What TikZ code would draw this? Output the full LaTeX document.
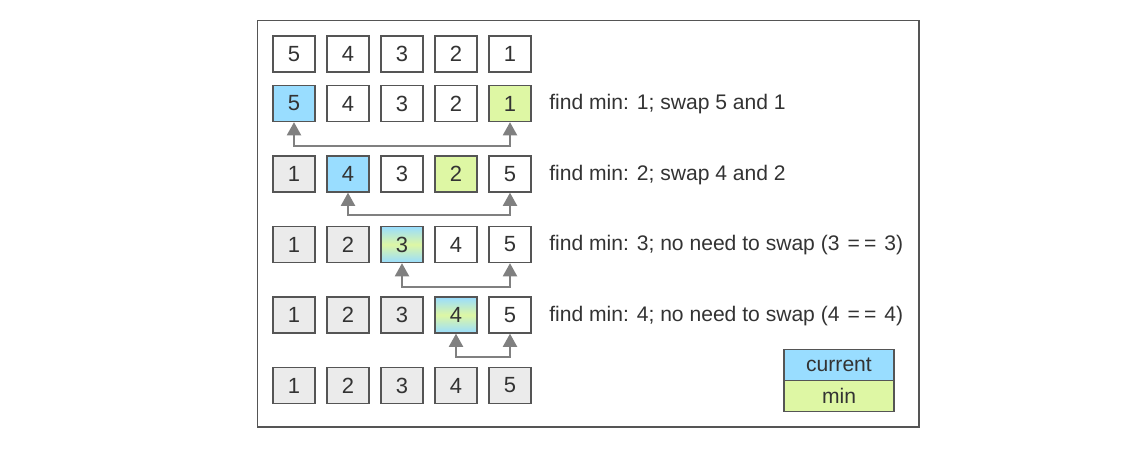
\documentclass[tikz,border=0pt]{standalone}
\usepackage{fontspec}
\setmainfont{Liberation Sans}
\usetikzlibrary{arrows.meta}
\definecolor{curblue}{RGB}{153,221,255}
\definecolor{mingreen}{RGB}{222,247,164}
\definecolor{donegray}{RGB}{235,235,235}
\definecolor{edgegray}{RGB}{85,85,85}
\definecolor{arrowgray}{RGB}{128,128,128}
\definecolor{textgray}{RGB}{51,51,51}
\tikzset{
  cell/.style={draw=edgegray, line width=0.8pt, fill=white, minimum width=0.84cm,
    minimum height=0.72cm, inner sep=0pt, text=textgray, font=\fontsize{12.5}{14}\selectfont},
  curcell/.style={cell, fill=curblue},
  mincell/.style={cell, fill=mingreen},
  donecell/.style={cell, fill=donegray},
  bothcell/.style={cell, top color=curblue, bottom color=curblue, middle color=mingreen},
  note/.style={anchor=west, inner sep=0pt, text=textgray, font=\fontsize{12}{14}\selectfont},
  legend/.style={draw=edgegray, line width=0.8pt, minimum width=2.2cm, minimum height=0.62cm,
    inner sep=0pt, text=textgray, font=\fontsize{12}{14}\selectfont},
  swaparrow/.style={arrowgray, line width=1.2pt,
    {Triangle[length=7.5pt,width=8pt]}-{Triangle[length=7.5pt,width=8pt]}},
}
\newcommand{\eqeq}{\hspace{0.38em}=\hspace{0.2em}=\hspace{0.38em}}
\begin{document}
\begin{tikzpicture}[x=0.02cm,y=-0.02cm]
\useasboundingbox (0,0) rectangle (1123,452);
\draw[edgegray, line width=0.85pt] (257.5,20.5) rectangle (919,427);

\node[cell] (r1c1) at (294,54) {5};
\node[cell] (r1c2) at (348,54) {4};
\node[cell] (r1c3) at (402,54) {3};
\node[cell] (r1c4) at (456,54) {2};
\node[cell] (r1c5) at (510,54) {1};

\node[curcell] (r2c1) at (294,103.5) {5};
\node[cell] (r2c2) at (348,103.5) {4};
\node[cell] (r2c3) at (402,103.5) {3};
\node[cell] (r2c4) at (456,103.5) {2};
\node[mincell] (r2c5) at (510,103.5) {1};
\node[note] (t2) at (549,104.5) {find min: 1; swap 5 and 1};
\draw[swaparrow] (r2c1.south) -- ++(0,23.5) -| (r2c5.south);

\node[donecell] (r3c1) at (294,174) {1};
\node[curcell] (r3c2) at (348,174) {4};
\node[cell] (r3c3) at (402,174) {3};
\node[mincell] (r3c4) at (456,174) {2};
\node[cell] (r3c5) at (510,174) {5};
\node[note] (t3) at (549,175) {find min: 2; swap 4 and 2};
\draw[swaparrow] (r3c2.south) -- ++(0,22) -| (r3c5.south);

\node[donecell] (r4c1) at (294,244.5) {1};
\node[donecell] (r4c2) at (348,244.5) {2};
\node[bothcell] (r4c3) at (402,244.5) {3};
\node[cell] (r4c4) at (456,244.5) {4};
\node[cell] (r4c5) at (510,244.5) {5};
\node[note] (t4) at (549,245.5) {find min: 3; no need to swap (3\eqeq3)};
\draw[swaparrow] (r4c3.south) -- ++(0,23.5) -| (r4c5.south);

\node[donecell] (r5c1) at (294,315) {1};
\node[donecell] (r5c2) at (348,315) {2};
\node[donecell] (r5c3) at (402,315) {3};
\node[bothcell] (r5c4) at (456,315) {4};
\node[cell] (r5c5) at (510,315) {5};
\node[note] (t5) at (549,316) {find min: 4; no need to swap (4\eqeq4)};
\draw[swaparrow] (r5c4.south) -- ++(0,23) -| (r5c5.south);

\node[donecell] (r6c1) at (294,385.5) {1};
\node[donecell] (r6c2) at (348,385.5) {2};
\node[donecell] (r6c3) at (402,385.5) {3};
\node[donecell] (r6c4) at (456,385.5) {4};
\node[donecell] (r6c5) at (510,385.5) {5};

\node[legend, fill=curblue] (legcur) at (839,365) {current};
\node[legend, fill=mingreen] (legmin) at (839,396) {min};
\end{tikzpicture}
\end{document}
